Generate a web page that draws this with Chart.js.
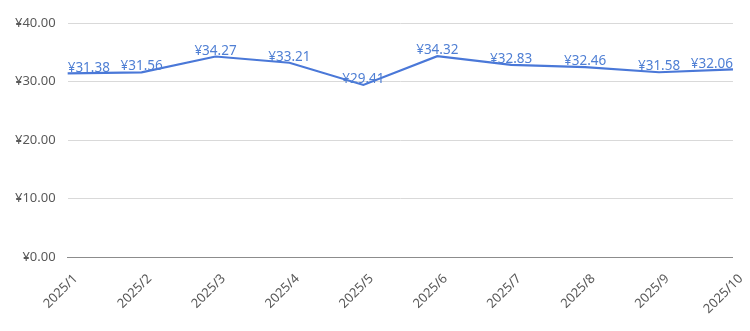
<!DOCTYPE html>
<html>
<head>
<meta charset="utf-8">
<script src="https://cdn.jsdelivr.net/npm/chart.js@4/dist/chart.umd.min.js"></script>
<style>
  html, body { margin: 0; padding: 0; background: #fff; }
  #wrap { width: 750px; height: 331px; }
</style>
</head>
<body>
<div id="wrap"><canvas id="line-chart"></canvas></div>
<script>
const months = ['2025/1', '2025/2', '2025/3', '2025/4', '2025/5', '2025/6', '2025/7', '2025/8', '2025/9', '2025/10'];
const prices = [31.38, 31.56, 34.27, 33.21, 29.41, 34.32, 32.83, 32.46, 31.58, 32.06];
const yTicks = [0, 10, 20, 30, 40];

const fmt = v => '¥' + v.toFixed(2);

// value labels above each point, kept inside the plot edges
const pointLabels = {
  id: 'pointLabels',
  afterDatasetsDraw(chart) {
    const ctx = chart.ctx;
    const area = chart.chartArea;
    const meta = chart.getDatasetMeta(0);
    ctx.save();
    ctx.font = '13.5px "Noto Sans"';
    ctx.fillStyle = '#4f7fd4';
    ctx.textBaseline = 'bottom';
    meta.data.forEach((pt, i) => {
      const text = fmt(prices[i]);
      const w = ctx.measureText(text).width;
      let x = pt.x - w / 2;
      if (x < area.left) x = area.left;
      if (x + w > area.right) x = area.right - w;
      ctx.fillText(text, x, pt.y + 1);
    });
    ctx.restore();
  }
};

new Chart(document.getElementById('line-chart').getContext('2d'), {
  type: 'line',
  data: {
    labels: months,
    datasets: [{
      data: prices,
      borderColor: '#4a78d8',
      borderWidth: 2.2,
      pointRadius: 0,
      tension: 0,
      fill: false,
    }],
  },
  options: {
    responsive: true,
    maintainAspectRatio: false,
    animation: false,
    layout: { padding: { top: 23, right: 13, left: 3, bottom: 8 } },
    plugins: { legend: { display: false }, tooltip: { enabled: false } },
    scales: {
      x: {
        offset: false,
        grid: { display: false },
        border: { display: true, color: '#8c8c8c', width: 1 },
        ticks: {
          color: '#595959',
          font: { family: 'Noto Sans', size: 13 },
          minRotation: 45,
          maxRotation: 45,
          autoSkip: false,
          padding: 6,
          labelOffset: 8,
        },
      },
      y: {
        min: 0,
        max: 40,
        afterBuildTicks: axis => { axis.ticks = yTicks.map(v => ({ value: v })); },
        grid: { color: '#d9d9d9', drawTicks: false },
        border: { display: false },
        ticks: {
          color: '#595959',
          font: { family: 'Noto Sans', size: 13 },
          padding: 12,
          callback: v => fmt(v),
        },
      },
    },
  },
  plugins: [pointLabels],
});
</script>
</body>
</html>
